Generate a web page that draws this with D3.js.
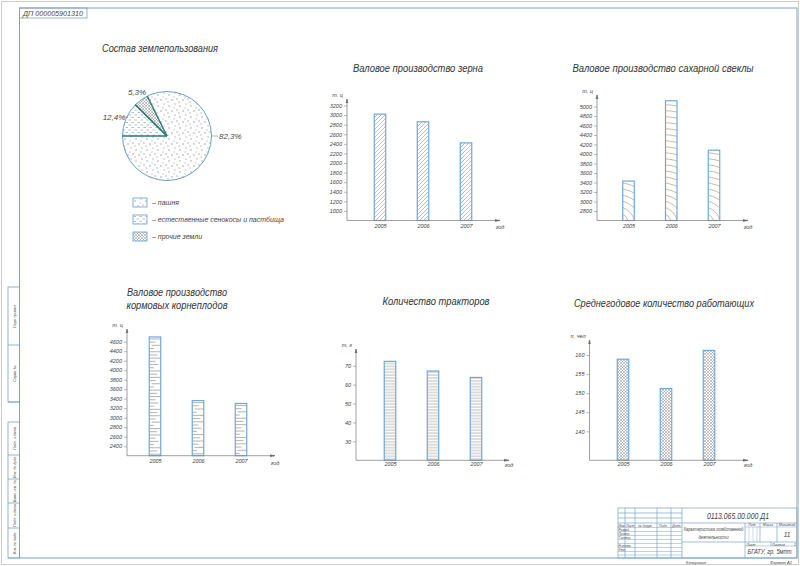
<!DOCTYPE html>
<html>
<head>
<meta charset="utf-8">
<script src="https://cdn.jsdelivr.net/npm/d3@7"></script>
<style>
  body { margin: 0; background: #fff; }
  svg text { font-family: "Liberation Sans", "DejaVu Sans", sans-serif; font-style: italic; fill: #444; }
</style>
</head>
<body>
<div id="sheet"></div>
<script>
//Chart data
const years = ["2005", "2006", "2007"];

const grainValues = [3020, 2860, 2420];
const grainTicks = [1000, 1200, 1400, 1600, 1800, 2000, 2200, 2400, 2600, 2800, 3000, 3200];

const beetValues = [3430, 5120, 4080];
const beetTicks = [2800, 3000, 3200, 3400, 3600, 3800, 4000, 4200, 4400, 4600, 4800, 5000];

const fodderValues = [4700, 3360, 3300];
const fodderTicks = [2400, 2600, 2800, 3000, 3200, 3400, 3600, 3800, 4000, 4200, 4400, 4600];

const tractorValues = [72.3, 67.2, 63.8];
const tractorTicks = [30, 40, 50, 60, 70];

const workerValues = [158.9, 151.2, 161.2];
const workerTicks = [140, 145, 150, 155, 160];

const landLabels = ["пашня", "естественные сенокосы и пастбища", "прочие земли"];
const landShares = [82.3, 12.4, 5.3];
const landShareLabels = ["82,3%", "12,4%", "5,3%"];

//Sheet size
const width = 800;
const height = 566;
const barColor = "#6fa8dc";

const svg = d3.select("#sheet").append("svg").attr("width", width).attr("height", height);
const defs = svg.append("defs");

//Hatch patterns
function pattern(id, w, h) {
    return defs.append("pattern").attr("id", id).attr("patternUnits", "userSpaceOnUse")
        .attr("width", w).attr("height", h);
}
const diag = pattern("diag", 4, 4);
diag.append("path").attr("d", "M-1,1 L1,-1 M0,4 L4,0 M3,5 L5,3").attr("stroke", "#9a8f88").attr("stroke-width", 0.6);

const horiz = pattern("horiz", 4, 2.9);
horiz.append("line").attr("x1", 0).attr("x2", 4).attr("y1", 1).attr("y2", 1).attr("stroke", "#8a8a8a").attr("stroke-width", 0.6);

const cross = pattern("cross", 3, 3);
cross.append("path").attr("d", "M0,0 L3,3 M3,0 L0,3").attr("stroke", "#8a8a8a").attr("stroke-width", 0.5);

const dots = pattern("dots", 11, 11);
[[2, 3, "#899"], [8, 1, "#aaa"], [10, 7, "#a98"], [5, 8, "#889"], [1, 10, "#aaa"], [7, 5, "#bbb"]].forEach(([x, y, c]) => {
    dots.append("circle").attr("cx", x).attr("cy", y).attr("r", 0.7).attr("fill", c);
});

const grass = pattern("grass", 6, 5);
grass.append("path").attr("d", "M0.5,1.5 L3,1.5 M3.5,4 L6,4").attr("stroke", "#7a9a9a").attr("stroke-width", 0.6);

//Sheet frame
svg.append("rect").attr("x", 1.5).attr("y", 1.5).attr("width", width - 3).attr("height", height - 3)
    .attr("fill", "none").attr("stroke", "#ccc").attr("stroke-width", 1);
svg.append("rect").attr("x", 19.5).attr("y", 8).attr("width", 777.5).attr("height", 550)
    .attr("fill", "none").attr("stroke", "#7aa3c4").attr("stroke-width", 1);

//Top-left stamp
svg.append("rect").attr("x", 19.5).attr("y", 8).attr("width", 67.5).attr("height", 10)
    .attr("fill", "none").attr("stroke", "#7aa3c4").attr("stroke-width", 0.8);
svg.append("text").attr("x", 53).attr("y", 15.5).attr("text-anchor", "middle")
    .attr("textLength", 60).attr("lengthAdjust", "spacingAndGlyphs").style("font-size", "7px").text("ДП 000005901310");

//Left strip boxes
function strip(y0, cuts, labels) {
    svg.append("rect").attr("x", 8).attr("y", y0).attr("width", 11.5).attr("height", cuts[cuts.length - 1] - y0)
        .attr("fill", "none").attr("stroke", "#7aa3c4").attr("stroke-width", 0.8);
    let prev = y0;
    cuts.forEach((c, i) => {
        svg.append("line").attr("x1", 8).attr("x2", 19.5).attr("y1", c).attr("y2", c).attr("stroke", "#7aa3c4").attr("stroke-width", 0.8);
        const mid = (prev + c) / 2;
        svg.append("text").attr("transform", `translate(15.5,${mid}) rotate(-90)`).attr("text-anchor", "middle")
            .style("font-size", "3.6px").text(labels[i]);
        prev = c;
    });
}
strip(287, [345, 402], ["Перв. примен.", "Справ. №"]);
strip(422, [455, 479, 503, 528, 558], ["Подп. и дата", "Инв. № дубл.", "Взам. инв. №", "Подп. и дата", "Инв. № подл."]);

//Title block
const tb = svg.append("g").attr("stroke", "#7aa3c4").attr("stroke-width", 0.7).attr("fill", "none");
tb.append("rect").attr("x", 618).attr("y", 508).attr("width", 179).attr("height", 50);
[513, 518].forEach(y => tb.append("line").attr("x1", 618).attr("x2", 682).attr("y1", y).attr("y2", y));
tb.append("line").attr("x1", 618).attr("x2", 797).attr("y1", 523).attr("y2", 523);
[527.5, 531.5, 535.5, 539.5, 543.5, 547.5, 551.5, 555].forEach(y => tb.append("line").attr("x1", 618).attr("x2", 682).attr("y1", y).attr("y2", y).attr("stroke-width", 0.5));
[625, 635, 657, 671].forEach(x => tb.append("line").attr("x1", x).attr("x2", x).attr("y1", 508).attr("y2", 558));
tb.append("line").attr("x1", 682).attr("x2", 682).attr("y1", 508).attr("y2", 558);
tb.append("line").attr("x1", 745).attr("x2", 745).attr("y1", 523).attr("y2", 558);
tb.append("line").attr("x1", 682).attr("x2", 745).attr("y1", 542).attr("y2", 542);
tb.append("line").attr("x1", 745).attr("x2", 797).attr("y1", 527).attr("y2", 527).attr("stroke-width", 0.5);
tb.append("line").attr("x1", 745).attr("x2", 797).attr("y1", 542).attr("y2", 542);
tb.append("line").attr("x1", 745).attr("x2", 797).attr("y1", 546).attr("y2", 546).attr("stroke-width", 0.5);
[760, 777].forEach(x => tb.append("line").attr("x1", x).attr("x2", x).attr("y1", 523).attr("y2", 542));
tb.append("line").attr("x1", 771).attr("x2", 771).attr("y1", 542).attr("y2", 546);
[749, 753, 757].forEach(x => tb.append("line").attr("x1", x).attr("x2", x).attr("y1", 527).attr("y2", 542).attr("stroke-width", 0.4));

function small(x, y, txt, size, anchor, len) {
    const t = svg.append("text").attr("x", x).attr("y", y).attr("text-anchor", anchor || "start").style("font-size", size + "px").text(txt);
    if (len) t.attr("textLength", len).attr("lengthAdjust", "spacingAndGlyphs");
}
small(738, 519, "0113.065.00.000 Д1", 9, "middle", 62);
[["Изм", 618.5], ["Лист", 626], ["№ докум.", 638], ["Подп.", 659], ["Дата", 672]].forEach(([t, x]) => small(x, 526.5, t, 3.3));
["Разраб.", "Провер.", "Т.контр.", "", "Н.контр.", "Утв."].forEach((t, i) => small(618.5, 530.8 + i * 4, t, 3.1));
small(713.5, 531, "Характеристика хозяйственной", 4.6, "middle", 60);
small(713.5, 538.5, "деятельности", 4.6, "middle", 30);
small(752, 526, "Лит", 3.5, "middle");
small(768, 526, "Масса", 3.5, "middle");
small(787, 526, "Масштаб", 3.5, "middle");
small(787, 537, "11", 6.5, "middle");
small(746.5, 545.5, "Лист", 3.5);
small(772, 545.5, "Листов", 3.5);
small(794, 545.5, "1", 3.5);
small(769.5, 554, "БГАТУ, гр. 5мпт", 7, "middle", 44);
small(696, 564, "Копировал", 4, "middle");
small(781, 564, "Формат   А1", 4, "middle");

//Titles
function title(x, y, txt, len) {
    svg.append("text").attr("x", x).attr("y", y).attr("text-anchor", "middle")
        .attr("textLength", len).attr("lengthAdjust", "spacingAndGlyphs")
        .style("font-size", "11px").style("fill", "#333").text(txt);
}
title(160, 52, "Состав землепользования", 116);
title(418, 72, "Валовое производство зерна", 130);
title(663, 72, "Валовое производство сахарной свеклы", 181);
title(177, 296, "Валовое производство", 100);
title(177, 309, "кормовых корнеплодов", 101);
title(436, 305, "Количество тракторов", 107);
title(664, 307, "Среднегодовое количество работающих", 180);

//Bar chart builder
function barChart(cfg) {
    const { values, ticks, domain, ox, baseY, topY, endX, firstX, lastX, unit, yearY, fill, id } = cfg;
    const g = svg.append("g");
    const y = d3.scaleLinear().domain(domain).range([baseY, cfg.topTickY]);
    const x = d3.scalePoint().domain(years).range([firstX, lastX]);
    const bw = 11.5;

    //bars
    const bars = g.selectAll(".bar").data(values).enter().append("g").attr("class", "bar");
    if (fill === "arcs") {
        //concentric arcs clipped to each bar
        bars.each(function (d, i) {
            const bx = x(years[i]) - bw / 2, by = y(d), bh = baseY - y(d);
            const clip = defs.append("clipPath").attr("id", id + "c" + i);
            clip.append("rect").attr("x", bx).attr("y", by).attr("width", bw).attr("height", bh);
            const arcs = d3.select(this).append("g").attr("clip-path", `url(#${id}c${i})`);
            const cx = bx - 6, cy = baseY + 4;
            for (let r = 6; r < bh + 30; r += 6) {
                arcs.append("circle").attr("cx", cx).attr("cy", cy).attr("r", r)
                    .attr("fill", "none").attr("stroke", "#b08a6a").attr("stroke-width", 0.6);
            }
        });
    } else if (fill === "dashes") {
        //horizontal strokes of varying length inside each bar
        const lens = [1, 0.55, 0.8, 0.4, 1, 0.7];
        bars.each(function (d, i) {
            const bx = x(years[i]) - bw / 2;
            let k = 0;
            for (let yy = y(d) + 2; yy < baseY - 1; yy += 3.2, k++) {
                const len = lens[k % lens.length] * bw;
                const fromRight = k % 4 === 2;
                d3.select(this).append("line")
                    .attr("x1", fromRight ? bx + bw - len : bx).attr("x2", fromRight ? bx + bw : bx + len)
                    .attr("y1", yy).attr("y2", yy).attr("stroke", "#7f7f7f").attr("stroke-width", 0.6);
            }
        });
    }
    bars.append("rect")
        .attr("x", (d, i) => x(years[i]) - bw / 2)
        .attr("y", d => y(d))
        .attr("width", bw)
        .attr("height", d => baseY - y(d))
        .attr("fill", (fill === "arcs" || fill === "dashes") ? "none" : `url(#${fill})`)
        .attr("stroke", barColor)
        .attr("stroke-width", 1.2);

    //y axis
    const yAxis = g.append("g").attr("transform", `translate(${ox},0)`)
        .call(d3.axisLeft(y).tickValues(ticks).tickSize(3).tickPadding(2).tickFormat(d3.format("d")));
    yAxis.select(".domain").remove();
    yAxis.selectAll(".tick line").attr("stroke", "#888").attr("stroke-width", 0.6);
    yAxis.selectAll(".tick text").style("font-size", "5.5px").attr("fill", "#555").style("font-family", null);
    g.append("line").attr("x1", ox).attr("x2", ox).attr("y1", baseY).attr("y2", topY).attr("stroke", "#888").attr("stroke-width", 0.8);
    g.append("path").attr("d", `M${ox - 1},${topY + 4} L${ox},${topY} L${ox + 1},${topY + 4}`).attr("fill", "#666").attr("stroke", "#666").attr("stroke-width", 0.5);
    g.append("text").attr("x", ox - 4).attr("y", topY - 2).attr("text-anchor", "end").style("font-size", "5.5px").text(unit);

    //x axis
    g.append("line").attr("x1", ox).attr("x2", endX).attr("y1", baseY).attr("y2", baseY).attr("stroke", "#888").attr("stroke-width", 0.8);
    g.append("path").attr("d", `M${endX - 5},${baseY - 1} L${endX},${baseY} L${endX - 5},${baseY + 1}`).attr("fill", "#666").attr("stroke", "#666").attr("stroke-width", 0.5);
    const xAxis = g.append("g").attr("transform", `translate(0,${yearY - 5})`).call(d3.axisBottom(x).tickSize(0).tickPadding(0));
    xAxis.select(".domain").remove();
    xAxis.selectAll(".tick text").style("font-size", "5.5px").attr("fill", "#555").style("font-family", null);
    g.append("text").attr("x", endX).attr("y", yearY).attr("text-anchor", "middle").style("font-size", "5.5px").text("год");
}

barChart({ id: "grain", values: grainValues, ticks: grainTicks, domain: [800, 3200], ox: 347, baseY: 220.5, topTickY: 105.5, topY: 99,
    endX: 500, firstX: 380, lastX: 466, unit: "т. ц", yearY: 229, fill: "diag" });
barChart({ id: "beet", values: beetValues, ticks: beetTicks, domain: [2600, 5000], ox: 597, baseY: 220.5, topTickY: 106.5, topY: 95,
    endX: 748, firstX: 628.5, lastX: 714, unit: "т. ц", yearY: 229, fill: "arcs" });
barChart({ id: "fodder", values: fodderValues, ticks: fodderTicks, domain: [2200, 4600], ox: 127, baseY: 455.7, topTickY: 341.7, topY: 329,
    endX: 275, firstX: 155, lastX: 241, unit: "т. ц", yearY: 464.5, fill: "dashes" });
barChart({ id: "tractor", values: tractorValues, ticks: tractorTicks, domain: [20, 70], ox: 356, baseY: 460.3, topTickY: 365.7, topY: 349,
    endX: 509, firstX: 390, lastX: 476, unit: "т, г", yearY: 467, fill: "horiz" });
barChart({ id: "worker", values: workerValues, ticks: workerTicks, domain: [132.4, 160], ox: 589.5, baseY: 460.3, topTickY: 355, topY: 340,
    endX: 748, firstX: 623, lastX: 709, unit: "п, чел", yearY: 467, fill: "cross" });

//Pie chart of land use
const cx = 167, cy = 136, r = 44.5;
const pieOrder = [1, 2, 0];
const pieFills = ["dots", "grass", "cross"];
const pie = d3.pie().sort(null).value(i => landShares[i]).startAngle(1.5 * Math.PI).endAngle(3.5 * Math.PI);
const arcs = pie(pieOrder);
const arc = d3.arc().innerRadius(0).outerRadius(r);
const pg = svg.append("g").attr("transform", `translate(${cx},${cy})`);
pg.selectAll("path.slice").data(arcs).enter().append("path").attr("class", "slice")
    .attr("d", arc).attr("fill", d => `url(#${pieFills[d.data]})`).attr("stroke", "none");
pg.append("circle").attr("r", r).attr("fill", "none").attr("stroke", "#6aa0c0").attr("stroke-width", 1);
//separator lines of the small slices
arcs.filter(d => d.data !== 0).forEach(d => {
    [d.startAngle, d.endAngle].forEach(a => {
        pg.append("line").attr("x1", 0).attr("y1", 0)
            .attr("x2", r * Math.sin(a)).attr("y2", -r * Math.cos(a))
            .attr("stroke", "#2a7a70").attr("stroke-width", 1.3);
    });
});
//slice labels
const labelPos = { 0: [219, 139, "start"], 1: [114, 120, "middle"], 2: [137, 95, "middle"] };
arcs.forEach(d => {
    const [lx, ly, anchor] = labelPos[d.data];
    svg.append("text").attr("x", lx).attr("y", ly).attr("text-anchor", anchor).style("font-size", "8px").text(landShareLabels[d.data]);
});
svg.append("line").attr("x1", 211).attr("x2", 218).attr("y1", 136).attr("y2", 136).attr("stroke", "#888").attr("stroke-width", 0.6);
svg.append("line").attr("x1", 123).attr("x2", 128).attr("y1", 117).attr("y2", 117).attr("stroke", "#888").attr("stroke-width", 0.6);

//legend
const lg = svg.append("g").selectAll("g").data(landLabels).enter().append("g")
    .attr("transform", (d, i) => `translate(133,${198 + i * 17})`);
lg.append("rect").attr("width", 14).attr("height", 9).attr("fill", (d, i) => `url(#${pieFills[i]})`)
    .attr("stroke", barColor).attr("stroke-width", 0.9);
lg.append("text").attr("x", 19).attr("y", 7).style("font-size", "7px").text(d => "– " + d);
</script>
</body>
</html>
